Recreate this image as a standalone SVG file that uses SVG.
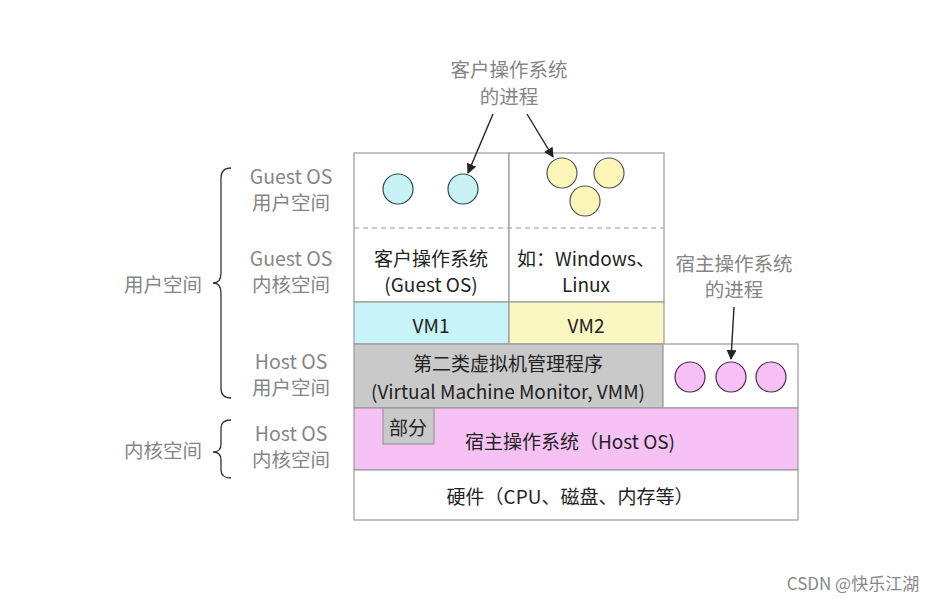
<svg xmlns="http://www.w3.org/2000/svg" width="938" height="601" viewBox="0 0 938 601">
<defs>
<style>
.t{font-family:"Noto Sans CJK SC","Noto Sans",sans-serif;font-size:19px;fill:#222;text-anchor:middle;dominant-baseline:central}
.g{font-family:"Noto Sans CJK SC","Noto Sans",sans-serif;font-size:19.5px;fill:#858585;text-anchor:middle;dominant-baseline:central}
.box{stroke:#9a9a9a;stroke-width:1.2}
.c1{fill:#c8f2f5;stroke:#2d4b50;stroke-width:1.2}
.c2{fill:#fbf6b8;stroke:#555;stroke-width:1.2}
.c3{fill:#f6c0f6;stroke:#4a2a4a;stroke-width:1.2}
.br{fill:none;stroke:#333;stroke-width:1.3}
.ar{stroke:#222;stroke-width:1.4;fill:none;marker-end:url(#ah)}
</style>
<marker id="ah" markerWidth="10" markerHeight="10" refX="9" refY="5" orient="auto" markerUnits="userSpaceOnUse">
<path d="M0,0 L10,5 L0,10 Z" fill="#222"/>
</marker>
</defs>
<rect width="938" height="601" fill="#fff"/>

<g id="guest-area">
<rect class="box" x="354" y="153" width="155" height="149" fill="#fff"/>
<rect class="box" x="509" y="153" width="155" height="149" fill="#fff"/>
<line x1="354" y1="228" x2="664" y2="228" stroke="#999" stroke-width="1.2" stroke-dasharray="5,4"/>
</g>
<g id="guest-procs-1">
<circle class="c1" cx="398" cy="189" r="15"/>
<circle class="c1" cx="463" cy="189" r="15"/>
</g>
<g id="guest-procs-2">
<circle class="c2" cx="562" cy="173" r="15"/>
<circle class="c2" cx="609" cy="173" r="15"/>
<circle class="c2" cx="585" cy="201" r="15"/>
</g>
<g id="guest-kernel-1">
<text class="t" x="431" y="257">客户操作系统</text>
<text class="t" x="431" y="283">(Guest OS)</text>
</g>
<g id="guest-kernel-2">
<text class="t" x="586" y="257">如：Windows、</text>
<text class="t" x="586" y="283">Linux</text>
</g>
<g id="vm1">
<rect class="box" x="354" y="302" width="155" height="42" fill="#c8f3f8"/>
<text class="t" x="431" y="324">VM1</text>
</g>
<g id="vm2">
<rect class="box" x="509" y="302" width="155" height="42" fill="#fbf7c2"/>
<text class="t" x="586" y="324">VM2</text>
</g>
<g id="vmm">
<rect class="box" x="354" y="344" width="309" height="64" fill="#c9c9c9"/>
<text class="t" x="508" y="362">第二类虚拟机管理程序</text>
<text class="t" x="508" y="390">(Virtual Machine Monitor, VMM)</text>
</g>
<g id="host-procs">
<rect class="box" x="663" y="344" width="135" height="64" fill="#fff"/>
<circle class="c3" cx="690" cy="377" r="15"/>
<circle class="c3" cx="731" cy="377" r="15"/>
<circle class="c3" cx="771" cy="377" r="15"/>
</g>
<g id="host-os">
<rect class="box" x="354" y="408" width="444" height="62" fill="#f6c2f6"/>
<text class="t" x="570" y="440">宿主操作系统（Host OS)</text>
</g>
<g id="part">
<rect class="box" x="383" y="408" width="51" height="36" fill="#c9c9c9"/>
<text class="t" x="408" y="426">部分</text>
</g>
<g id="hardware">
<rect class="box" x="354" y="470" width="444" height="50" fill="#fff"/>
<text class="t" x="570" y="495">硬件（CPU、磁盘、内存等）</text>
</g>

<g id="label-guest-proc">
<text class="g" x="509" y="68">客户操作系统</text>
<text class="g" x="509" y="95">的进程</text>
</g>
<g id="label-host-proc">
<text class="g" x="734" y="262">宿主操作系统</text>
<text class="g" x="734" y="288">的进程</text>
</g>
<g id="left-labels">
<text class="g" x="291" y="175">Guest OS</text>
<text class="g" x="291" y="201">用户空间</text>
<text class="g" x="291" y="257">Guest OS</text>
<text class="g" x="291" y="283">内核空间</text>
<text class="g" x="291" y="360">Host OS</text>
<text class="g" x="291" y="386">用户空间</text>
<text class="g" x="291" y="432">Host OS</text>
<text class="g" x="291" y="458">内核空间</text>
<text class="g" x="163" y="283">用户空间</text>
<text class="g" x="163" y="449">内核空间</text>
</g>

<g id="connectors">
<line class="ar" x1="493" y1="114" x2="468" y2="173"/>
<line class="ar" x1="527" y1="114" x2="553" y2="157"/>
<line class="ar" x1="734" y1="307" x2="731" y2="359"/>
<path class="br" d="M231,168 Q221,168 221,178 L221,273 Q221,283 213,283 Q221,283 221,293 L221,388 Q221,398 231,398"/>
<path class="br" d="M231,420 Q221,420 221,428 L221,444 Q221,452 213,452 Q221,452 221,460 L221,470 Q221,478 231,478"/>
</g>

<text x="853" y="582" font-family="'Noto Sans CJK SC','Noto Sans',sans-serif" font-size="17" fill="#888" text-anchor="middle" dominant-baseline="central">CSDN @快乐江湖</text>
</svg>
